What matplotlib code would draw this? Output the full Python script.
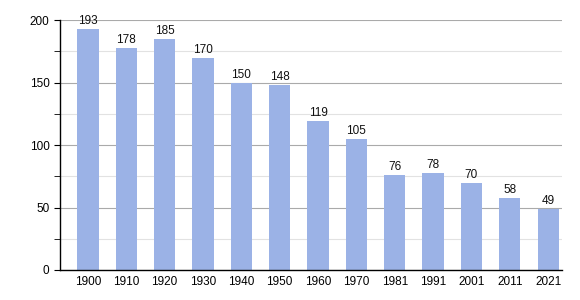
import matplotlib
matplotlib.use("Agg")
import matplotlib.pyplot as plt
from matplotlib.ticker import MultipleLocator

plt.rcParams['font.family'] = ['Liberation Sans', 'DejaVu Sans']

years = ["1900", "1910", "1920", "1930", "1940", "1950", "1960", "1970", "1981", "1991", "2001", "2011", "2021"]
population = [193, 178, 185, 170, 150, 148, 119, 105, 76, 78, 70, 58, 49]

fig = plt.figure(figsize=(5.8, 3.0), dpi=100)
ax = fig.add_axes([0.1034, 0.1, 0.866, 0.833])
x = list(range(len(years)))
ax.bar(x, population, width=0.55, color="#9bb2e6", zorder=2)
for xi, v in zip(x, population):
    ax.text(xi, v + 1.5, str(v), ha="center", va="bottom", fontsize=8.5, color="#111111", zorder=3)

ax.set_xlim(-0.73, 12.37)
ax.set_ylim(0, 200)
ax.yaxis.set_major_locator(MultipleLocator(50))
ax.yaxis.set_minor_locator(MultipleLocator(25))
ax.grid(axis="y", which="major", color="#aaaaaa", linewidth=0.8, zorder=0)
ax.grid(axis="y", which="minor", color="#e2e2e2", linewidth=0.8, zorder=0)
ax.set_xticks(x)
ax.set_xticklabels(years, fontsize=8.5)
ax.tick_params(axis="x", length=0, pad=4)
ax.tick_params(axis="y", which="both", length=4, labelsize=8.5, color="black")
for s in ["top", "right"]:
    ax.spines[s].set_visible(False)
ax.spines["left"].set_linewidth(1.0)
ax.spines["bottom"].set_linewidth(1.0)
fig.savefig("out.png", dpi=100)
